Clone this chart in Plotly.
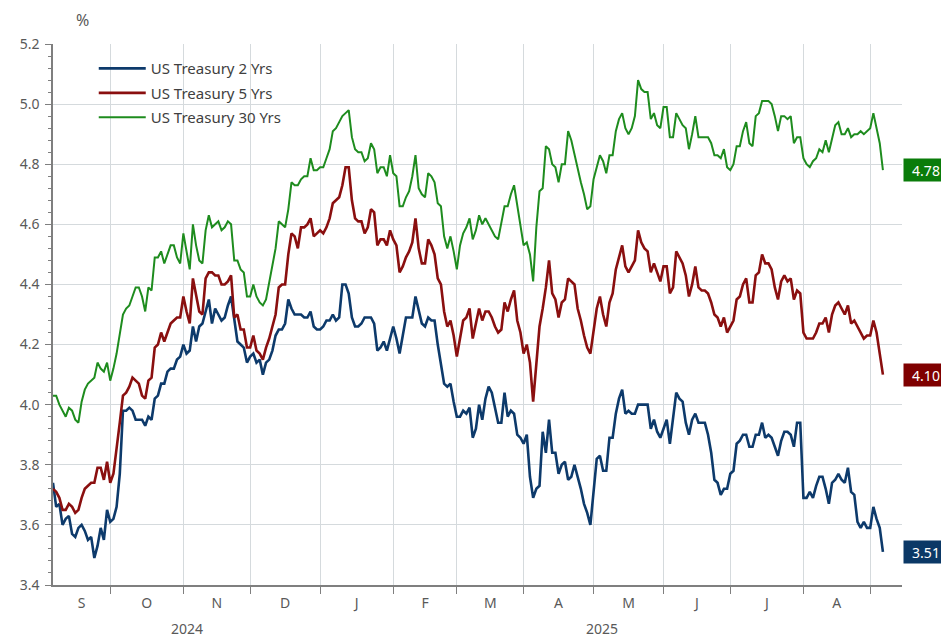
import pandas as pd
import plotly.graph_objects as go

# one value per weekday, 5 Sep 2024 .. 5 Sep 2025 (262 days)
dates = pd.bdate_range("2024-09-05", "2025-09-05")

yld_2y = [
    3.74, 3.66, 3.67, 3.60, 3.62, 3.63, 3.57, 3.56, 3.59, 3.60,
    3.58, 3.55, 3.56, 3.49, 3.53, 3.59, 3.55, 3.65, 3.61, 3.62,
    3.66, 3.77, 3.98, 3.98, 3.99, 3.98, 3.95, 3.95, 3.95, 3.93,
    3.96, 3.95, 4.02, 4.03, 4.07, 4.07, 4.11, 4.12, 4.12, 4.15,
    4.16, 4.20, 4.17, 4.18, 4.26, 4.21, 4.26, 4.27, 4.31, 4.35,
    4.27, 4.32, 4.30, 4.28, 4.29, 4.33, 4.36, 4.29, 4.21, 4.20,
    4.19, 4.14, 4.16, 4.17, 4.14, 4.15, 4.10, 4.14, 4.15, 4.18,
    4.23, 4.25, 4.25, 4.27, 4.35, 4.32, 4.30, 4.30, 4.30, 4.29,
    4.29, 4.31, 4.26, 4.25, 4.25, 4.26, 4.28, 4.28, 4.30, 4.28,
    4.29, 4.40, 4.40, 4.37, 4.29, 4.26, 4.26, 4.27, 4.29, 4.29,
    4.29, 4.27, 4.18, 4.19, 4.21, 4.18, 4.22, 4.26, 4.22, 4.17,
    4.23, 4.29, 4.29, 4.29, 4.36, 4.31, 4.27, 4.26, 4.29, 4.28,
    4.28, 4.20, 4.14, 4.07, 4.06, 4.07, 4.01, 3.96, 3.96, 3.98,
    3.97, 3.99, 3.89, 3.92, 4.00, 3.95, 4.02, 4.06, 4.04, 3.99,
    3.94, 3.94, 4.04, 3.96, 3.98, 3.97, 3.90, 3.89, 3.87, 3.90,
    3.76, 3.69, 3.72, 3.73, 3.91, 3.84, 3.95, 3.84, 3.84, 3.77,
    3.80, 3.81, 3.75, 3.76, 3.80, 3.76, 3.72, 3.67, 3.64, 3.60,
    3.70, 3.82, 3.83, 3.78, 3.78, 3.89, 3.89, 3.97, 4.02, 4.05,
    3.97, 3.98, 3.97, 3.97, 4.00, 4.00, 4.00, 4.00, 3.92, 3.95,
    3.91, 3.89, 3.92, 3.95, 3.87, 3.95, 4.04, 4.02, 4.01, 3.94,
    3.90, 3.95, 3.97, 3.94, 3.94, 3.94, 3.90, 3.84, 3.75, 3.74,
    3.70, 3.72, 3.72, 3.77, 3.78, 3.87, 3.88, 3.90, 3.90, 3.86,
    3.86, 3.90, 3.90, 3.94, 3.89, 3.90, 3.89, 3.86, 3.83, 3.88,
    3.91, 3.91, 3.90, 3.86, 3.94, 3.94, 3.69, 3.69, 3.71, 3.69,
    3.73, 3.76, 3.76, 3.72, 3.67, 3.74, 3.75, 3.77, 3.75, 3.74,
    3.79, 3.71, 3.70, 3.61, 3.59, 3.61, 3.59, 3.59, 3.66, 3.62,
    3.59, 3.51,
]

yld_5y = [
    3.72, 3.71, 3.69, 3.65, 3.65, 3.67, 3.66, 3.64, 3.65, 3.69,
    3.72, 3.73, 3.74, 3.74, 3.79, 3.79, 3.75, 3.81, 3.74, 3.77,
    3.85, 3.94, 4.03, 4.04, 4.06, 4.09, 4.08, 4.07, 4.03, 4.02,
    4.08, 4.09, 4.19, 4.20, 4.24, 4.21, 4.24, 4.27, 4.28, 4.29,
    4.29, 4.36, 4.31, 4.27, 4.42, 4.36, 4.31, 4.30, 4.42, 4.44,
    4.44, 4.43, 4.43, 4.40, 4.40, 4.41, 4.43, 4.29, 4.30, 4.25,
    4.25, 4.19, 4.19, 4.23, 4.18, 4.17, 4.15, 4.19, 4.22, 4.26,
    4.30, 4.39, 4.40, 4.40, 4.50, 4.57, 4.56, 4.52, 4.59, 4.59,
    4.60, 4.62, 4.56, 4.57, 4.58, 4.57, 4.59, 4.62, 4.67, 4.68,
    4.69, 4.73, 4.79, 4.79, 4.68, 4.62, 4.61, 4.61, 4.57, 4.59,
    4.65, 4.64, 4.53, 4.55, 4.55, 4.53, 4.58, 4.55, 4.53, 4.44,
    4.46, 4.49, 4.51, 4.54, 4.62, 4.52, 4.47, 4.47, 4.55, 4.53,
    4.50, 4.42, 4.40, 4.31, 4.26, 4.28, 4.23, 4.16, 4.22, 4.28,
    4.29, 4.32, 4.22, 4.27, 4.32, 4.28, 4.31, 4.31, 4.29, 4.26,
    4.24, 4.25, 4.34, 4.31, 4.35, 4.38, 4.28, 4.24, 4.17, 4.20,
    4.14, 4.01, 4.15, 4.26, 4.32, 4.39, 4.48, 4.37, 4.35, 4.29,
    4.34, 4.35, 4.42, 4.41, 4.40, 4.32, 4.28, 4.23, 4.19, 4.17,
    4.25, 4.32, 4.36, 4.30, 4.26, 4.34, 4.37, 4.45, 4.49, 4.53,
    4.46, 4.44, 4.46, 4.48, 4.58, 4.54, 4.52, 4.51, 4.44, 4.47,
    4.44, 4.41, 4.46, 4.46, 4.37, 4.39, 4.51, 4.49, 4.47, 4.43,
    4.36, 4.40, 4.46, 4.39, 4.38, 4.38, 4.37, 4.34, 4.30, 4.29,
    4.26, 4.29, 4.24, 4.26, 4.28, 4.35, 4.36, 4.40, 4.42, 4.34,
    4.34, 4.43, 4.44, 4.50, 4.47, 4.47, 4.45, 4.39, 4.35, 4.41,
    4.43, 4.41, 4.42, 4.35, 4.38, 4.37, 4.24, 4.22, 4.22, 4.22,
    4.24, 4.27, 4.27, 4.29, 4.24, 4.30, 4.33, 4.34, 4.32, 4.30,
    4.33, 4.27, 4.28, 4.26, 4.24, 4.22, 4.23, 4.23, 4.28, 4.24,
    4.17, 4.10,
]

yld_30y = [
    4.03, 4.03, 4.00, 3.98, 3.96, 3.99, 3.98, 3.95, 3.94, 4.01,
    4.05, 4.07, 4.08, 4.09, 4.14, 4.12, 4.11, 4.14, 4.08, 4.12,
    4.17, 4.24, 4.30, 4.32, 4.33, 4.36, 4.39, 4.39, 4.36, 4.31,
    4.39, 4.38, 4.49, 4.49, 4.51, 4.47, 4.50, 4.53, 4.53, 4.49,
    4.47, 4.57, 4.51, 4.45, 4.60, 4.53, 4.48, 4.47, 4.58, 4.63,
    4.59, 4.60, 4.61, 4.58, 4.59, 4.61, 4.60, 4.48, 4.48, 4.45,
    4.44, 4.36, 4.36, 4.40, 4.36, 4.34, 4.33, 4.35, 4.41, 4.46,
    4.52, 4.61, 4.60, 4.59, 4.65, 4.74, 4.73, 4.73, 4.75, 4.76,
    4.76, 4.82, 4.78, 4.78, 4.79, 4.79, 4.82, 4.85, 4.91, 4.92,
    4.94, 4.96, 4.97, 4.98, 4.89, 4.85, 4.84, 4.84, 4.81, 4.82,
    4.87, 4.85, 4.77, 4.79, 4.79, 4.76, 4.83, 4.77, 4.76, 4.66,
    4.66, 4.69, 4.71, 4.76, 4.83, 4.72, 4.70, 4.69, 4.77, 4.76,
    4.74, 4.67, 4.66, 4.56, 4.52, 4.56, 4.51, 4.45, 4.53, 4.57,
    4.59, 4.62, 4.55, 4.58, 4.63, 4.60, 4.62, 4.60, 4.58, 4.56,
    4.55, 4.60, 4.66, 4.66, 4.70, 4.73, 4.66, 4.59, 4.53, 4.54,
    4.50, 4.41, 4.59, 4.71, 4.72, 4.86, 4.85, 4.80, 4.79, 4.74,
    4.80, 4.80, 4.91, 4.88, 4.83, 4.78, 4.74, 4.70, 4.65, 4.66,
    4.75, 4.79, 4.83, 4.81, 4.77, 4.83, 4.83, 4.91, 4.95, 4.97,
    4.92, 4.90, 4.92, 4.96, 5.08, 5.05, 5.04, 5.04, 4.95, 4.97,
    4.93, 4.92, 4.99, 4.99, 4.89, 4.89, 4.97, 4.95, 4.93, 4.92,
    4.85, 4.90, 4.96, 4.89, 4.89, 4.89, 4.89, 4.87, 4.83, 4.83,
    4.82, 4.85, 4.79, 4.78, 4.80, 4.86, 4.86, 4.91, 4.94, 4.87,
    4.86, 4.96, 4.97, 5.01, 5.01, 5.01, 5.00, 4.96, 4.91, 4.96,
    4.96, 4.95, 4.96, 4.87, 4.89, 4.89, 4.82, 4.80, 4.79, 4.81,
    4.82, 4.85, 4.84, 4.88, 4.84, 4.89, 4.93, 4.94, 4.90, 4.90,
    4.92, 4.89, 4.90, 4.90, 4.91, 4.90, 4.91, 4.92, 4.97, 4.92,
    4.87, 4.78,
]

names = ["US Treasury 2 Yrs", "US Treasury 5 Yrs", "US Treasury 30 Yrs"]
line_colors = ["#0d3a6b", "#8a0f0f", "#1e8c1e"]
box_colors = ["#0b3866", "#7f0000", "#0a7c0a"]
widths = [2.6, 2.6, 2]
month_letters = ["S", "O", "N", "D", "J", "F", "M", "A", "M", "J", "J", "A"]
years = ["2024", "2025"]

FONT = "Noto Sans"
GREY = "#595959"
GRID = "#d5dadd"

# axis calendar runs a bit past the last point
axis_days = pd.bdate_range("2024-09-05", "2025-09-15")
first_day = ~axis_days.to_period("M").duplicated()
start_idx = [i for i, f in enumerate(first_day) if f]   # first weekday of each month
bounds = [axis_days[i] for i in start_idx[1:]]


def at(pos):
    # weekday position -> timestamp (fractions land inside the day)
    base = int(pos)
    return axis_days[base] + pd.Timedelta(hours=24 * (pos - base))


mids = [at((start_idx[k] + start_idx[k + 1]) / 2) for k in range(len(month_letters))]
jan = axis_days.get_loc(pd.Timestamp("2025-01-01"))
year_pos = [at(jan / 2), at((jan + len(dates) - 1) / 2)]

fig = go.Figure()
for vals, nm, col, w in zip([yld_2y, yld_5y, yld_30y], names, line_colors, widths):
    fig.add_trace(go.Scatter(x=dates, y=vals, name=nm, mode="lines", legendgroup=nm,
                             line=dict(color=col, width=w)))

# last-value boxes on the right
for vals, col in zip([yld_2y, yld_5y, yld_30y], box_colors):
    fig.add_annotation(x=1, xref="paper", y=vals[-1], yref="y", xanchor="left", yanchor="middle",
                       xshift=1, text=f"{vals[-1]:.2f}", showarrow=False, bgcolor=col,
                       width=42, height=20, font=dict(family=FONT, size=14, color="white"))

for yr, pos in zip(years, year_pos):
    fig.add_annotation(x=pos, xref="x", y=0, yref="paper", xanchor="center", yanchor="middle",
                       yshift=-43, text=yr, showarrow=False,
                       font=dict(family=FONT, size=14, color=GREY))

fig.add_annotation(x=0.035, xref="paper", y=1.044, yref="paper", xanchor="center", yanchor="middle",
                   text="%", showarrow=False, font=dict(family=FONT, size=16, color=GREY))

fig.update_xaxes(
    range=[dates[0], axis_days[-1]],
    rangebreaks=[dict(bounds=["sat", "mon"])],
    tickmode="array", tickvals=mids, ticktext=month_letters, ticks="",
    ticklabelstandoff=4,
    tickfont=dict(family=FONT, size=14, color=GREY),
    showgrid=False, showline=True, linecolor="#7f7f7f", linewidth=1.5,
    minor=dict(tickmode="array", tickvals=bounds, ticks="outside", ticklen=7,
               tickcolor="#7f7f7f", showgrid=True, gridcolor=GRID, gridwidth=1),
)
fig.update_yaxes(
    range=[3.4, 5.2], tick0=3.4, dtick=0.2, tickformat=".1f",
    ticks="outside", ticklen=6, tickcolor="#7f7f7f", ticklabelstandoff=3,
    tickfont=dict(family=FONT, size=14, color=GREY),
    showgrid=True, gridcolor=GRID, gridwidth=1, zeroline=False,
    showline=True, linecolor="#7f7f7f", linewidth=1.5,
    minor=dict(tick0=3.4, dtick=0.04, ticks="outside", ticklen=3, tickcolor="#7f7f7f", showgrid=False),
)

# the page puts the figure 8px in from the top-left corner, so it is sized to fit
fig.update_layout(
    width=941, height=629,
    margin=dict(l=37, r=47, t=36, b=52),
    plot_bgcolor="white", paper_bgcolor="white",
    font=dict(family=FONT, color=GREY),
    showlegend=True,
    legend=dict(x=0.048, y=0.985, xanchor="left", yanchor="top", bgcolor="rgba(0,0,0,0)",
                tracegroupgap=2, itemwidth=47,
                font=dict(family=FONT, size=15, color="#404040")),
)

fig.write_html("out.html")
